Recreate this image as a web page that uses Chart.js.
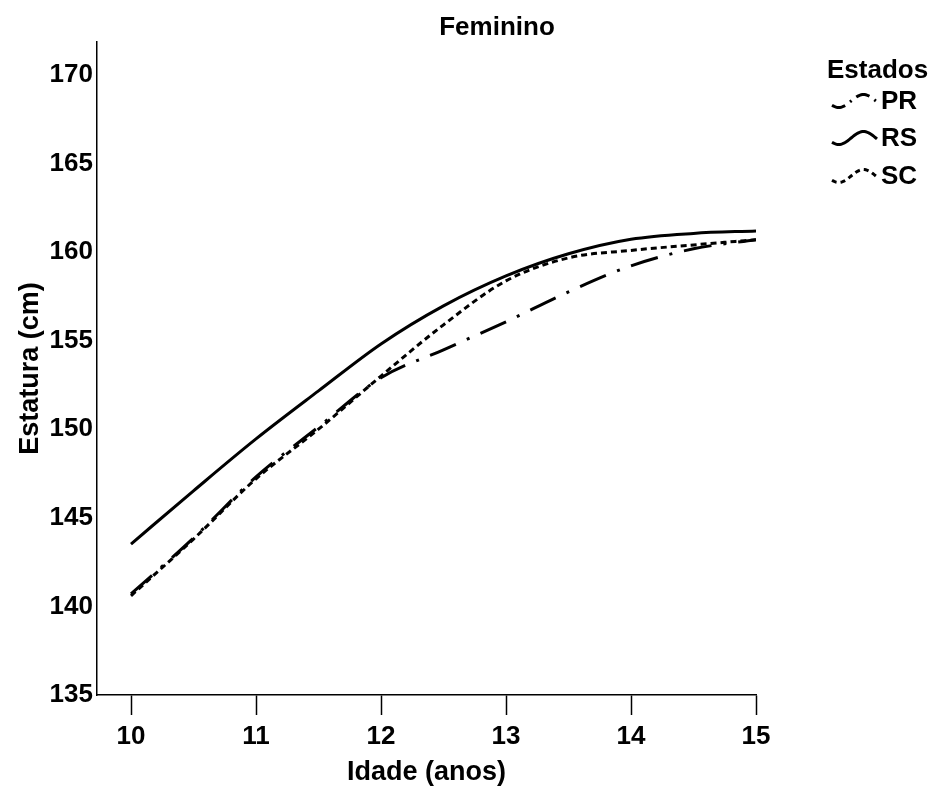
<!DOCTYPE html>
<html>
<head>
<meta charset="utf-8">
<script src="https://cdn.jsdelivr.net/npm/chart.js@4.4.1/dist/chart.umd.min.js"></script>
<style>
html, body { margin: 0; padding: 0; background: #fff; }
</style>
</head>
<body>
<canvas id="myChart" width="931" height="789"></canvas>
<script>
// Values (height in cm by age)
const ages = [10, 10.5, 11, 11.5, 12, 12.5, 13, 13.5, 14, 14.5, 15];
const prValues = [140.7, 143.86, 147.31, 150.13, 152.9, 154.48, 156.06, 157.75, 159.22, 160.18, 160.69];
const rsValues = [143.52, 146.52, 149.45, 152.16, 154.81, 156.96, 158.65, 159.9, 160.72, 161.05, 161.19];
const scValues = [140.6, 143.8, 147.2, 150.0, 153.0, 155.89, 158.37, 159.67, 160.09, 160.4, 160.69];
const xTicks = [10, 11, 12, 13, 14, 15];
const yTicks = [135, 140, 145, 150, 155, 160, 165, 170];
const estados = ["PR", "RS", "SC"];

const FONT = "'Liberation Sans', Arial, sans-serif";
const FS = 26;   // ticks, title, legend
const FT = 27;   // axis titles

const dashes = {
    PR: [28, 12, 3, 12],
    RS: [],
    SC: [6, 4]
};

function toPoints(vals) {
    return ages.map(function(a, i) { return {x: a, y: vals[i]}; });
}

function makeSet(name, vals) {
    return {
        label: name,
        data: toPoints(vals),
        borderColor: '#000',
        borderWidth: 3,
        borderDash: dashes[name],
        pointRadius: 0,
        fill: false,
        cubicInterpolationMode: 'monotone'
    };
}

// Title + legend with little wavy samples, like the original
const extras = {
    id: 'extras',
    afterDraw: function(chart) {
        const ctx = chart.ctx;
        ctx.save();
        ctx.fillStyle = '#000';
        ctx.font = 'bold ' + FS + 'px ' + FONT;
        ctx.textBaseline = 'middle';
        ctx.textAlign = 'center';
        ctx.fillText('Feminino', 497, 28);

        ctx.textAlign = 'left';
        ctx.fillText('Estados', 827, 71);

        const rows = [101, 138, 176];
        for (let i = 0; i < estados.length; i++) {
            const cy = rows[i];
            ctx.beginPath();
            ctx.setLineDash(estados[i] == 'SC' ? [5, 4] : (estados[i] == 'PR' ? [14, 6, 2, 6] : []));
            ctx.lineWidth = 3;
            ctx.strokeStyle = '#000';
            for (let k = 0; k <= 40; k++) {
                const t = k / 40;
                const px = 832 + 45 * t;
                const py = cy - 6.5 * Math.sin(-2.428 + 5.71 * t);
                if (k == 0) ctx.moveTo(px, py); else ctx.lineTo(px, py);
            }
            ctx.stroke();
            ctx.setLineDash([]);
            ctx.fillText(estados[i], 881, cy + 1);
        }
        ctx.restore();
    }
};

const ctx = document.getElementById('myChart');
const chart = new Chart(ctx, {
    type: 'line',
    data: {
        datasets: [
            makeSet('PR', prValues),
            makeSet('RS', rsValues),
            makeSet('SC', scValues)
        ]
    },
    options: {
        responsive: false,
        animation: false,
        devicePixelRatio: 1,
        layout: { padding: { top: 42, right: 175, left: 0, bottom: 0 } },
        plugins: {
            legend: { display: false },
            title: { display: false },
            tooltip: { enabled: false }
        },
        scales: {
            x: {
                type: 'linear',
                min: 9.728,
                max: 15,
                afterBuildTicks: function(s) { s.ticks = xTicks.map(function(v) { return {value: v}; }); },
                afterFit: function(s) { s.height = 94; },
                grid: {
                    display: true,
                    drawOnChartArea: false,
                    drawTicks: true,
                    tickLength: 20,
                    tickWidth: 1.5,
                    tickColor: '#000'
                },
                border: { display: true, color: '#000', width: 1.5 },
                ticks: {
                    color: '#000',
                    padding: 6,
                    maxRotation: 0,
                    font: { family: FONT, size: FS, weight: 'bold' }
                },
                title: {
                    display: true,
                    text: 'Idade (anos)',
                    color: '#000',
                    padding: { top: 0, bottom: 0 },
                    font: { family: FONT, size: FT, weight: 'bold' }
                }
            },
            y: {
                min: 135,
                max: 171.85,
                afterBuildTicks: function(s) { s.ticks = yTicks.map(function(v) { return {value: v}; }); },
                afterFit: function(s) { s.width = 97; },
                grid: { display: false, drawTicks: false },
                border: { display: true, color: '#000', width: 1.5 },
                ticks: {
                    color: '#000',
                    padding: 4,
                    font: { family: FONT, size: FS, weight: 'bold' }
                },
                title: {
                    display: true,
                    text: 'Estatura (cm)',
                    color: '#000',
                    padding: { top: 14, bottom: 0 },
                    font: { family: FONT, size: FT, weight: 'bold' }
                }
            }
        }
    },
    plugins: [extras]
});
</script>
</body>
</html>
